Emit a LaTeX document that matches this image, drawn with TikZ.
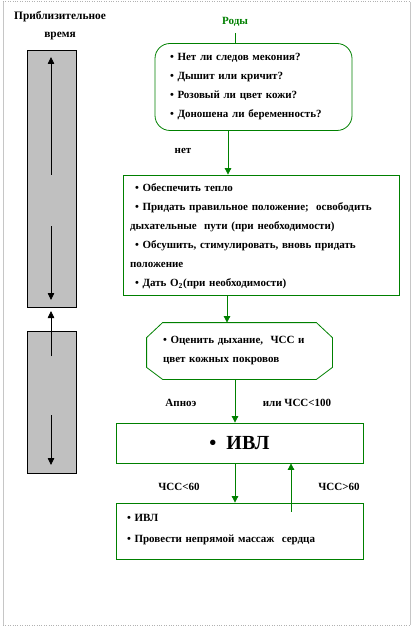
\documentclass[tikz,border=0pt]{standalone}
\usepackage{fontspec}
\setmainfont{Liberation Serif}
\usetikzlibrary{arrows.meta,calc}
\definecolor{grn}{RGB}{0,128,0}
\definecolor{bargray}{RGB}{192,192,192}
\begin{document}
\begin{tikzpicture}[x=1pt,y=-1pt,
  txt/.style={font=\bfseries\fontsize{11}{19}\selectfont, inner sep=0pt},
  bar/.style={draw=black, fill=bargray, line width=0.8pt, inner sep=0pt},
  gbox/.style={draw=grn, line width=0.8pt, align=left, font=\bfseries\fontsize{11}{19}\selectfont, inner ysep=0pt},
  garrow/.style={draw=grn, line width=0.8pt, -{Triangle[width=6.5pt,length=6.5pt]}, color=grn},
  gline/.style={draw=grn, line width=0.8pt},
  barrow/.style={draw=black, line width=0.8pt, -{Triangle[width=6.5pt,length=7pt]}}]
\useasboundingbox (0,0) rectangle (412,628);
% frame
\draw[gray!45, line width=0.8pt] (3,2) -- (3,625);
\draw[gray!45, line width=0.8pt] (410,2) -- (410,625);
\draw[gray!60, dotted] (3,1.5) -- (410,1.5);
\draw[gray!60, dotted] (3,625.5) -- (410,625.5);
% time column
\node[txt, align=center, font=\bfseries\fontsize{11.4}{18}\selectfont] (time) at (60,26) {Приблизительное\\время};
\node[bar, minimum width=49pt, minimum height=257pt] (bar1) at (51.5,178.5) {};
\node[bar, minimum width=49pt, minimum height=142pt] (bar2) at (51.5,402) {};
\coordinate (a1s) at (51,175); \coordinate (a1e) at (51,57);
\coordinate (a2s) at (51,226); \coordinate (a2e) at (51,300);
\coordinate (a3s) at (51,356); \coordinate (a3e) at (51,311);
\coordinate (a4s) at (51,415); \coordinate (a4e) at (51,465);
\draw[barrow] (a1s) -- (a1e);
\draw[barrow] (a2s) -- (a2e);
\draw[barrow] (a3s) -- (a3e);
\draw[barrow] (a4s) -- (a4e);
% flow
\coordinate (x227) at (227,0);
\coordinate (x228) at (228,0);
\coordinate (x235) at (235,0);
\coordinate (x291) at (291,0);
\node[txt, text=grn] (rody) at (235,22) {Роды};
\node[gbox, rounded corners=15pt, minimum width=197pt, minimum height=87pt, text width=167pt, inner xsep=15pt] (q) at (253.5,87)
 {• Нет ли следов мекония?\\• Дышит или кричит?\\• Розовый ли цвет кожи?\\• Доношена ли беременность?};
\draw[gline] ($(rody.south)+(0,6)$) -- (rody.south |- q.north);
\node[txt] (net) at (183,151) {нет};
\node[gbox, minimum width=276pt, minimum height=120pt, text width=262pt, inner xsep=7pt] (b2) at (261,235)
 {\rule{0pt}{11pt}\hspace*{5pt}• Обеспечить тепло\\
  \hspace*{5pt}• Придать правильное положение;\ \ освободить\\
  дыхательные\ \ пути (при необходимости)\\
  \hspace*{5pt}• Обсушить, стимулировать, вновь придать\\
  положение\\
  \hspace*{5pt}• Дать O\textsubscript{2}(при необходимости)};
\draw[garrow] (q.south -| x228) -- (b2.north -| x228);
\node[gbox, draw=none, minimum width=185pt, minimum height=56pt, text width=153pt, inner xsep=16pt] (oc) at (239.5,351)
 {• Оценить дыхание,\ \ ЧСС и\\цвет кожных покровов};
\draw[gline] ([xshift=16pt]oc.north west) -- ([xshift=-16pt]oc.north east) -- ([yshift=-15pt]oc.north east)
  -- ([yshift=12pt]oc.south east) -- ([xshift=-16pt]oc.south east) -- ([xshift=16pt]oc.south west)
  -- ([yshift=12pt]oc.south west) -- ([yshift=-15pt]oc.north west) -- cycle;
\draw[garrow] (b2.south -| x227) -- (oc.north -| x227);
\node[txt] (apnoe) at (181,403) {Апноэ};
\node[txt] (chss100) at (297,403) {или ЧСС<100};
\node[gbox, minimum width=247pt, minimum height=40pt, align=center, font=\bfseries\fontsize{20}{22}\selectfont] (ivl) at (239.5,443) {\raisebox{-2pt}{•\ \ ИВЛ}};
\draw[garrow] (oc.south -| x235) -- (ivl.north -| x235);
\node[txt] (chss60a) at (179,487) {ЧСС<60};
\node[txt] (chss60b) at (339,487) {ЧСС>60};
\node[gbox, minimum width=247pt, minimum height=56pt, text width=225pt, inner xsep=11pt] (b4) at (239.5,531)
 {\parbox[c][56pt][t]{225pt}{\fontsize{11}{21}\selectfont\vspace*{11pt}• ИВЛ\\• Провести непрямой массаж\ \ сердца}};
\draw[garrow] (ivl.south -| x235) -- (b4.north -| x235);
\draw[garrow] ($(b4.north -| x291)+(0,9)$) -- (ivl.south -| x291);
\end{tikzpicture}
\end{document}
